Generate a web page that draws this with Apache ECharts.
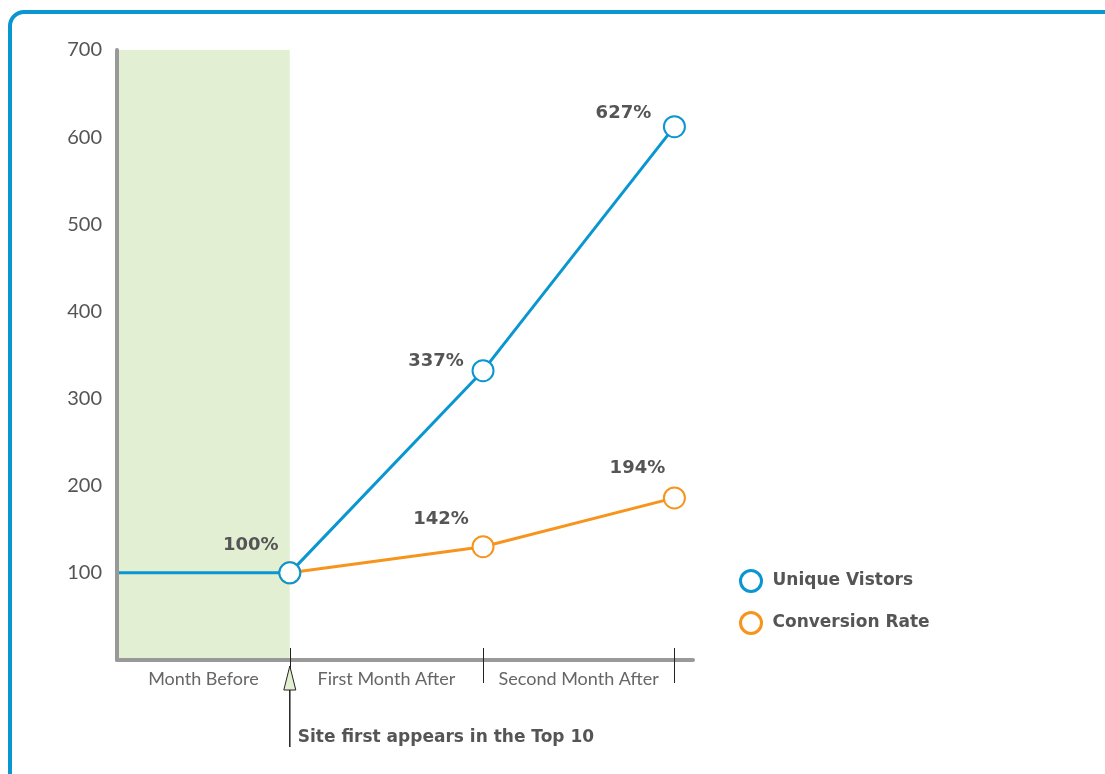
<!DOCTYPE html>
<html>
<head>
<meta charset="utf-8">
<script src="https://cdn.jsdelivr.net/npm/echarts@6/dist/echarts.min.js"></script>
<style>
  html, body { margin:0; padding:0; background:#fff; overflow:hidden; }
  #frame { position:absolute; left:8px; top:10px; width:1120px; height:790px;
           border:4px solid #0a96d0; border-radius:16px; box-sizing:border-box; }
  #main { position:absolute; left:0; top:0; width:1105px; height:774px; }
</style>
</head>
<body>
<div id="frame"></div>
<div id="main"></div>
<script>
// periods and x positions (in period units)
var periods = ['Month Before', 'First Month After', 'Second Month After'];
var periodEnds = [0.93, 1.97, 3.0];
var periodMids = [0.465, 1.45, 2.485];

var xPos = [0, 0.93, 1.97, 3.0];
var visitors = [100, 100, 332, 612];
var visitorsText = ['', '100%', '337%', '627%'];

var convX = [0.93, 1.97, 3.0];
var conversion = [100, 130, 186];
var conversionText = ['142%', '194%'];

var yTicks = [100, 200, 300, 400, 500, 600, 700];
var shadedRange = [0, 0.93];
var annotation = 'Site first appears in the Top 10';

var BLUE = '#0a96d0', ORANGE = '#f7941d', GRAY = '#555';
var FONT = 'Lato, "DejaVu Sans", sans-serif';
var BOLD = '"DejaVu Sans", sans-serif';

var chart = echarts.init(document.getElementById('main'));

// label offsets relative to each point
var visOffsets = [[0,0], [-39,-28], [-47,-9], [-51,-13]];
var convOffsets = [[-42,-27], [-37,-30]];

var visData = xPos.map(function (x, i) {
  var d = { value: [x, visitors[i]] };
  if (i === 0) { d.symbol = 'none'; d.label = { show: false }; }
  else d.label = { show: true, offset: visOffsets[i], formatter: visitorsText[i] };
  return d;
});
var convData = convX.map(function (x, i) {
  var d = { value: [x, conversion[i]] };
  if (i === 0) d.label = { show: false };
  else d.label = { show: true, offset: convOffsets[i - 1], formatter: conversionText[i - 1] };
  return d;
});

var labelStyle = { position: 'inside', color: GRAY, fontFamily: BOLD, fontWeight: 'bold', fontSize: 18 };

var option = {
  animation: false,
  grid: { left: 117, top: 50, right: 412, bottom: 114, containLabel: false },
  xAxis: [{
    type: 'value', min: 0, max: 3.1, z: 5,
    axisLine: { show: true, lineStyle: { color: '#999', width: 4 } },
    splitLine: { show: false },
    axisTick: { show: true, customValues: periodEnds, length: 23, lineStyle: { color: '#222', width: 1 } },
    axisLabel: {
      show: true, customValues: periodMids, margin: 10,
      color: '#666', fontFamily: FONT, fontSize: 18,
      formatter: function (v) { return periods[periodMids.indexOf(v)] || ''; }
    }
  }, {
    type: 'value', min: 0, max: 3.1, position: 'bottom', z: 5,
    axisLine: { show: false },
    splitLine: { show: false },
    axisTick: { show: true, inside: true, customValues: periodEnds, length: 12, lineStyle: { color: '#222', width: 1 } },
    axisLabel: { show: false }
  }],
  yAxis: {
    type: 'value', min: 0, max: 700, interval: 100, z: 5,
    axisLine: { show: true, lineStyle: { color: '#999', width: 4 } },
    axisTick: { show: false },
    splitLine: { show: false },
    axisLabel: {
      margin: 15, color: GRAY, fontFamily: FONT, fontSize: 20, showMinLabel: false,
      formatter: function (v) { return yTicks.indexOf(v) >= 0 ? String(v) : ''; }
    }
  },
  legend: {
    orient: 'vertical', left: 734, top: 564, itemGap: 18,
    itemWidth: 21, itemHeight: 21, icon: 'circle',
    textStyle: { color: GRAY, fontFamily: BOLD, fontWeight: 'bold', fontSize: 17, padding: [0, 0, 0, 6] },
    data: [
      { name: 'Unique Vistors', itemStyle: { color: '#fff', borderColor: BLUE, borderWidth: 3 } },
      { name: 'Conversion Rate', itemStyle: { color: '#fff', borderColor: ORANGE, borderWidth: 3 } }
    ]
  },
  series: [{
    name: 'Unique Vistors', type: 'line', z: 3,
    data: visData,
    symbol: 'emptyCircle', symbolSize: 21,
    lineStyle: { color: BLUE, width: 3 },
    itemStyle: { color: BLUE, borderColor: BLUE, borderWidth: 3 },
    label: labelStyle,
    markArea: {
      silent: true,
      itemStyle: { color: '#e3efd3' },
      data: [[{ xAxis: shadedRange[0] }, { xAxis: shadedRange[1] }]]
    }
  }, {
    name: 'Conversion Rate', type: 'line', z: 2,
    data: convData,
    symbol: 'emptyCircle', symbolSize: 21,
    lineStyle: { color: ORANGE, width: 3 },
    itemStyle: { color: ORANGE, borderColor: ORANGE, borderWidth: 3 },
    label: labelStyle
  }]
};
chart.setOption(option);

// annotation arrow below the first-month boundary
var ax = chart.convertToPixel({ xAxisIndex: 0 }, periodEnds[0]);
var ay = chart.convertToPixel({ yAxisIndex: 0 }, 0);
chart.setOption({
  graphic: [{
    type: 'polygon',
    shape: { points: [[ax, ay + 6], [ax - 6, ay + 30], [ax + 6, ay + 30]] },
    style: { fill: '#e3efd3', stroke: '#222', lineWidth: 1 }, z: 10
  }, {
    type: 'line',
    shape: { x1: ax, y1: ay + 30, x2: ax, y2: ay + 87 },
    style: { stroke: '#222', lineWidth: 1.5 }, z: 10
  }, {
    type: 'text', x: ax + 8, y: ay + 78,
    style: { text: annotation, fill: GRAY, font: 'bold 17px ' + BOLD, textVerticalAlign: 'middle' }, z: 10
  }]
});
</script>
</body>
</html>
